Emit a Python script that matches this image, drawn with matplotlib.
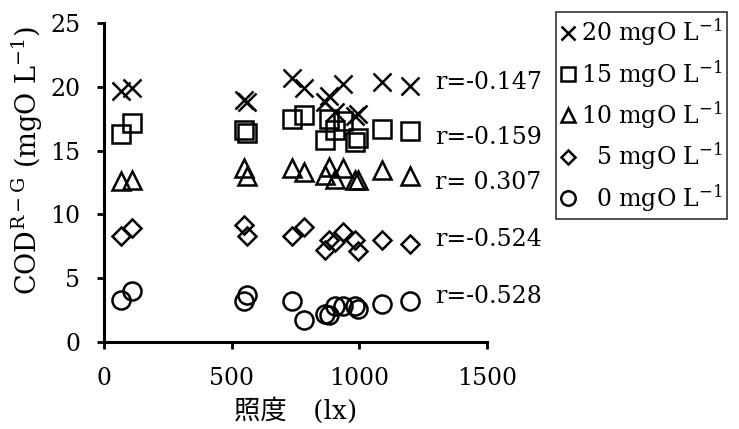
import matplotlib
matplotlib.use('Agg')
import matplotlib.pyplot as plt

# illuminance (lx) shared by every series
lux = [65, 110, 550, 560, 735, 785, 865, 880, 905, 935, 985, 995, 1090, 1200]

cod_20 = [19.7, 19.9, 19.0, 18.8, 20.7, 19.9, 18.8, 19.3, 18.0, 20.2, 17.7, 17.9, 20.4, 20.1]
cod_15 = [16.3, 17.2, 16.6, 16.4, 17.5, 17.8, 15.8, 17.5, 16.6, 17.3, 15.7, 16.0, 16.7, 16.5]
cod_10 = [12.6, 12.7, 13.6, 13.0, 13.6, 13.3, 13.1, 13.7, 12.8, 13.6, 12.7, 12.7, 13.5, 13.0]
cod_5 = [8.3, 8.9, 9.2, 8.3, 8.3, 9.0, 7.2, 8.0, 7.8, 8.6, 8.0, 7.1, 8.0, 7.7]
cod_0 = [3.3, 4.0, 3.2, 3.7, 3.2, 1.7, 2.2, 2.1, 2.8, 2.8, 2.8, 2.6, 3.0, 3.2]

labels = ['20 mgO L$\\mathregular{^{-1}}$', '15 mgO L$\\mathregular{^{-1}}$',
          '10 mgO L$\\mathregular{^{-1}}$', '  5 mgO L$\\mathregular{^{-1}}$',
          '  0 mgO L$\\mathregular{^{-1}}$']
r_texts = ['r=-0.147', 'r=-0.159', 'r= 0.307', 'r=-0.524', 'r=-0.528']
r_pos_y = [20.3, 16.0, 12.5, 8.0, 3.55]

plt.rcParams['font.family'] = ['DejaVu Serif', 'Noto Sans CJK JP']
plt.rcParams['mathtext.fontset'] = 'custom'
plt.rcParams['mathtext.rm'] = 'DejaVu Serif'
plt.rcParams['font.size'] = 17

fig = plt.figure(figsize=(7.39, 4.29), dpi=100)
ax = fig.add_axes([0.1407, 0.2028, 0.5183, 0.7436])

series = [cod_20, cod_15, cod_10, cod_5, cod_0]
markers = ['x', 's', '^', 'D', 'o']
sizes = [13, 13, 13, 9.5, 13]
for vals, m, ms, lbl in zip(series, markers, sizes, labels):
    ax.plot(lux, vals, linestyle='none', marker=m, markersize=ms, mfc='none',
            mec='black', mew=1.8, label=lbl)

for txt, y in zip(r_texts, r_pos_y):
    ax.text(1296, y, txt, va='center', ha='left', clip_on=False)

ax.set_xlim(0, 1500)
ax.set_ylim(0, 25)
ax.set_xticks([0, 500, 1000, 1500])
ax.set_yticks([0, 5, 10, 15, 20, 25])
for s in ['top', 'right']:
    ax.spines[s].set_visible(False)
for s in ['left', 'bottom']:
    ax.spines[s].set_linewidth(2.2)
ax.tick_params(direction='out', length=5, width=2)
ax.tick_params(axis='x', pad=13)
ax.tick_params(axis='y', pad=12)

ax.set_xlabel('照度\u3000(lx)', va='center', fontsize=19)
ax.xaxis.set_label_coords(0.5, -0.215)
ax.set_ylabel('COD$\\mathregular{^{R-G}}$ (mgO L$\\mathregular{^{-1}}$)', va='center',
              fontsize=19.5)
ax.yaxis.set_label_coords(-0.2, 0.57)

leg = ax.legend(loc='upper left', bbox_to_anchor=(0.752, 0.972),
                bbox_transform=fig.transFigure, frameon=True, fancybox=False,
                edgecolor='black', markerscale=0.8, handlelength=0.6,
                handletextpad=0.25, labelspacing=0.42, borderpad=0.2,
                borderaxespad=0)
leg.get_frame().set_linewidth(1.2)

fig.savefig('out.png', dpi=100)
